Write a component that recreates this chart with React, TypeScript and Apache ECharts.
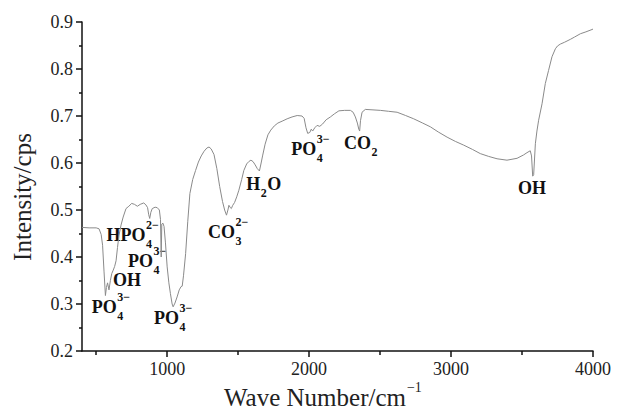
import React, { useEffect, useRef } from 'react';
import * as echarts from 'echarts';

// Wave numbers (cm^-1) and measured intensity (cps)
const waveNumbers = [
  400, 450, 500, 520, 535, 545, 555, 565, 572, 580, 590, 600, 610, 620, 630, 640, 650, 660, 675, 690,
  710, 730, 750, 770, 790, 810, 835, 850, 862, 870, 877, 885, 895, 915, 930, 945, 953, 958, 962, 970,
  978, 988, 1000, 1012, 1023, 1035, 1042, 1055, 1070, 1085, 1098, 1106, 1115, 1130, 1145, 1160, 1180, 1200, 1220, 1240,
  1260, 1280, 1295, 1310, 1330, 1350, 1370, 1390, 1405, 1418, 1428, 1435, 1445, 1452, 1462, 1475, 1490, 1505, 1525, 1540,
  1560, 1575, 1590, 1605, 1620, 1635, 1650, 1662, 1672, 1690, 1710, 1730, 1755, 1780, 1810, 1845, 1880, 1916, 1950, 1965,
  1978, 1990, 2005, 2015, 2025, 2040, 2056, 2075, 2095, 2120, 2150, 2180, 2210, 2250, 2291, 2310, 2326, 2340, 2350, 2356,
  2362, 2373, 2396, 2450, 2502, 2560, 2620, 2680, 2737, 2800, 2854, 2910, 2972, 3030, 3089, 3150, 3206, 3265, 3324, 3394,
  3465, 3510, 3535, 3558, 3567, 3575, 3582, 3594, 3605, 3617, 3641, 3664, 3687, 3711, 3735, 3750, 3770, 3800, 3840, 3870,
  3911, 3950, 3993, 4000,
];
const intensity = [
  0.463, 0.462, 0.462, 0.460, 0.448, 0.425, 0.370, 0.318, 0.335, 0.345, 0.330, 0.350, 0.365, 0.372, 0.380, 0.392, 0.420, 0.445, 0.468, 0.485,
  0.503, 0.508, 0.514, 0.512, 0.508, 0.512, 0.515, 0.511, 0.505, 0.490, 0.482, 0.495, 0.503, 0.506, 0.505, 0.500, 0.480, 0.400, 0.470, 0.472,
  0.465, 0.430, 0.379, 0.345, 0.322, 0.300, 0.294, 0.302, 0.315, 0.330, 0.337, 0.338, 0.360, 0.407, 0.475, 0.535, 0.565, 0.584, 0.602, 0.615,
  0.625, 0.632, 0.634, 0.630, 0.618, 0.588, 0.550, 0.518, 0.500, 0.489, 0.500, 0.510, 0.505, 0.503, 0.510, 0.516, 0.528, 0.542, 0.565, 0.584,
  0.598, 0.603, 0.606, 0.603, 0.596, 0.588, 0.583, 0.600, 0.615, 0.640, 0.660, 0.670, 0.679, 0.685, 0.689, 0.694, 0.698, 0.701, 0.700, 0.695,
  0.675, 0.663, 0.665, 0.672, 0.668, 0.675, 0.680, 0.678, 0.683, 0.692, 0.698, 0.705, 0.711, 0.712, 0.712, 0.708, 0.698, 0.685, 0.672, 0.668,
  0.690, 0.708, 0.714, 0.713, 0.712, 0.710, 0.708, 0.701, 0.694, 0.685, 0.677, 0.666, 0.655, 0.646, 0.638, 0.629, 0.620, 0.614, 0.609, 0.606,
  0.610, 0.617, 0.622, 0.626, 0.615, 0.572, 0.575, 0.641, 0.668, 0.691, 0.726, 0.769, 0.797, 0.826, 0.843, 0.849, 0.853, 0.857, 0.863, 0.868,
  0.875, 0.879, 0.884, 0.885,
];

const xMajorTicks = [1000, 2000, 3000, 4000];
const xMinorTicks = [500, 1500, 2500, 3500];

type Seg = { t?: string; sub?: string; sup?: string };
// Band assignments, anchored at (wave number, intensity) = left edge / middle of the label
const annotations: { segs: Seg[]; wn: number; val: number }[] = [
  { segs: [{ t: 'PO' }, { sub: '4', sup: '3−' }], wn: 468, val: 0.293 },
  { segs: [{ t: 'OH' }], wn: 618, val: 0.351 },
  { segs: [{ t: 'HPO' }, { sub: '4', sup: '2−' }], wn: 572, val: 0.447 },
  { segs: [{ t: 'PO' }, { sub: '4', sup: '3−' }], wn: 724, val: 0.392 },
  { segs: [{ t: 'PO' }, { sub: '4', sup: '3−' }], wn: 907, val: 0.27 },
  { segs: [{ t: 'CO' }, { sub: '3', sup: '2−' }], wn: 1288, val: 0.454 },
  { segs: [{ t: 'H' }, { sub: '2' }, { t: 'O' }], wn: 1558, val: 0.555 },
  { segs: [{ t: 'PO' }, { sub: '4', sup: '3−' }], wn: 1875, val: 0.63 },
  { segs: [{ t: 'CO' }, { sub: '2' }], wn: 2246, val: 0.643 },
  { segs: [{ t: 'OH' }], wn: 3472, val: 0.547 },
];

const SERIF = "'Liberation Serif', 'Times New Roman', serif";

let measureCtx: CanvasRenderingContext2D | null = null;
function measure(text: string, font: string): number {
  if (!measureCtx) measureCtx = document.createElement('canvas').getContext('2d');
  if (!measureCtx) return text.length * 8;
  measureCtx.font = font;
  return measureCtx.measureText(text).width;
}

export default function App() {
  const ref = useRef<HTMLDivElement>(null);
  useEffect(() => {
    if (!ref.current) return;
    const chart = echarts.init(ref.current, null, { renderer: 'svg' });
    const axisColor = '#111';
    chart.setOption({
      animation: false,
      backgroundColor: '#fff',
      grid: { left: 82, right: 25, top: 22, bottom: 64 },
      xAxis: [
        {
          type: 'value',
          position: 'bottom',
          min: 400,
          max: 4000,
          axisLine: { show: true, onZero: false, lineStyle: { color: axisColor, width: 1.5 } },
          axisTick: { show: true, length: 6, customValues: xMajorTicks, lineStyle: { color: axisColor, width: 1.5 } },
          axisLabel: {
            show: true,
            customValues: xMajorTicks,
            margin: 9,
            fontSize: 18,
            fontFamily: SERIF,
            color: '#222',
            formatter: (v: number) => String(Math.round(v)),
          },
          splitLine: { show: false },
        },
        {
          type: 'value',
          position: 'bottom',
          min: 400,
          max: 4000,
          axisLine: { show: false, onZero: false },
          axisTick: { show: true, length: 4, customValues: xMinorTicks, lineStyle: { color: axisColor, width: 1.5 } },
          axisLabel: { show: false },
          splitLine: { show: false },
        },
      ],
      yAxis: {
        type: 'value',
        min: 0.2,
        max: 0.9,
        interval: 0.1,
        axisLine: { show: true, onZero: false, lineStyle: { color: axisColor, width: 1.5 } },
        axisTick: { show: true, length: 6, lineStyle: { color: axisColor, width: 1.5 } },
        minorTick: { show: true, splitNumber: 2, length: 3, lineStyle: { color: axisColor, width: 1.5 } },
        axisLabel: {
          margin: 9,
          fontSize: 18,
          fontFamily: SERIF,
          color: '#222',
          formatter: (v: number) => v.toFixed(1),
        },
        splitLine: { show: false },
      },
      series: [
        {
          type: 'line',
          xAxisIndex: 0,
          yAxisIndex: 0,
          showSymbol: false,
          data: waveNumbers.map((w, i) => [w, intensity[i]]),
          lineStyle: { color: '#8a8a8a', width: 1 },
        },
      ],
    });

    const elements: any[] = [];
    const baseSize = 18;
    const smallSize = 12;
    const baseFont = `bold ${baseSize}px ${SERIF}`;
    const smallFont = `bold ${smallSize}px ${SERIF}`;
    annotations.forEach((a) => {
      const p = chart.convertToPixel({ seriesIndex: 0 }, [a.wn, a.val]) as number[];
      let x = p[0];
      const y = p[1];
      a.segs.forEach((s) => {
        if (s.t) {
          elements.push({
            type: 'text',
            x,
            y,
            style: {
              text: s.t,
              fontSize: baseSize,
              fontWeight: 'bold',
              fontFamily: SERIF,
              fill: '#111',
              align: 'left',
              verticalAlign: 'middle',
            },
          });
          x += measure(s.t, baseFont);
        } else {
          let w = 0;
          if (s.sub) {
            elements.push({
              type: 'text',
              x: x + 0.5,
              y: y + 9,
              style: {
                text: s.sub,
                fontSize: smallSize,
                fontWeight: 'bold',
                fontFamily: SERIF,
                fill: '#111',
                align: 'left',
                verticalAlign: 'middle',
              },
            });
            w = Math.max(w, measure(s.sub, smallFont));
          }
          if (s.sup) {
            elements.push({
              type: 'text',
              x: x + 0.5,
              y: y - 10,
              style: {
                text: s.sup,
                fontSize: smallSize,
                fontWeight: 'bold',
                fontFamily: SERIF,
                fill: '#111',
                align: 'left',
                verticalAlign: 'middle',
              },
            });
            w = Math.max(w, measure(s.sup, smallFont));
          }
          x += w + 1;
        }
      });
    });

    // Axis titles
    const xName = 'Wave Number/cm';
    const nameSize = 25;
    const xNameW = measure(xName, `${nameSize}px ${SERIF}`);
    const xNameLeft = 224;
    elements.push({
      type: 'text',
      x: xNameLeft,
      y: 397,
      style: { text: xName, fontSize: nameSize, fontFamily: SERIF, fill: '#222', align: 'left', verticalAlign: 'middle' },
    });
    elements.push({
      type: 'text',
      x: xNameLeft + xNameW + 1,
      y: 387,
      style: { text: '−1', fontSize: 14, fontFamily: SERIF, fill: '#222', align: 'left', verticalAlign: 'middle' },
    });
    elements.push({
      type: 'text',
      x: 22,
      y: 197,
      rotation: Math.PI / 2,
      style: { text: 'Intensity/cps', fontSize: nameSize, fontFamily: SERIF, fill: '#222', align: 'center', verticalAlign: 'middle' },
    });

    chart.setOption({ graphic: elements });
    return () => chart.dispose();
  }, []);
  return <div ref={ref} style={{ position: 'absolute', left: 0, top: 0, width: 618, height: 415 }} />;
}
